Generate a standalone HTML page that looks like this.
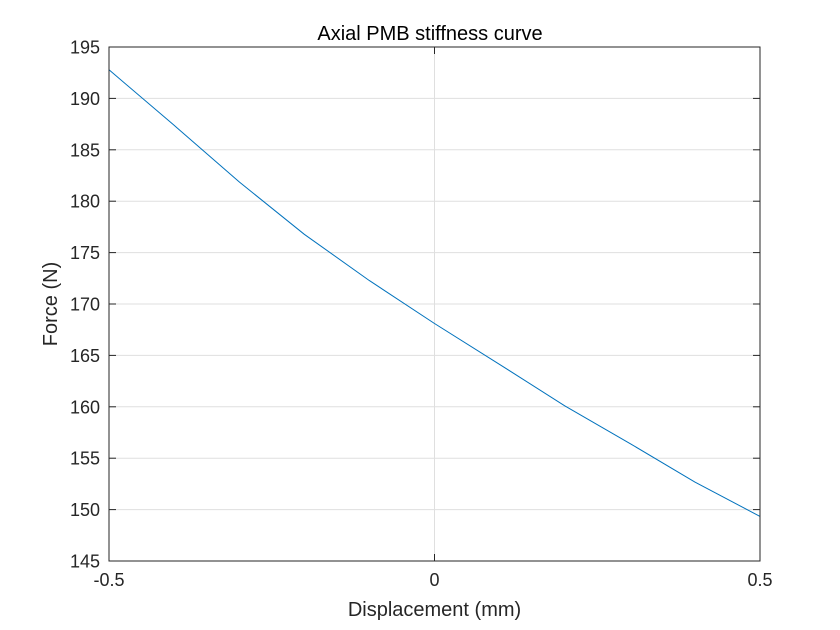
<!DOCTYPE html>
<html><head><meta charset="utf-8"><style>body{margin:0;background:#fff}svg{display:block}</style></head><body>
<svg width="840" height="630" xmlns="http://www.w3.org/2000/svg" font-family="Liberation Sans, sans-serif">
<rect width="840" height="630" fill="#fff"/>
<g stroke="#dfdfdf" stroke-width="1">
<line x1="109" x2="760" y1="98.4" y2="98.4"/><line x1="109" x2="760" y1="149.8" y2="149.8"/>
<line x1="109" x2="760" y1="201.2" y2="201.2"/><line x1="109" x2="760" y1="252.6" y2="252.6"/>
<line x1="109" x2="760" y1="304" y2="304"/><line x1="109" x2="760" y1="355.4" y2="355.4"/>
<line x1="109" x2="760" y1="406.8" y2="406.8"/><line x1="109" x2="760" y1="458.2" y2="458.2"/>
<line x1="109" x2="760" y1="509.6" y2="509.6"/>
<line x1="434.5" x2="434.5" y1="47" y2="561"/>
</g>
<polyline fill="none" stroke="#0072bd" stroke-width="1" points="109,69.8 174.1,125.3 239.2,181.9 304.3,234.3 369.4,280.6 434.5,323.5 499.6,364.4 564.7,405.8 629.8,443.4 694.9,482.1 760,516.4"/>
<rect x="109" y="47" width="651" height="514" fill="none" stroke="#262626" stroke-width="1"/>
<g stroke="#262626">
<line x1="109" x2="116" y1="98.4" y2="98.4"/><line x1="109" x2="116" y1="149.8" y2="149.8"/><line x1="109" x2="116" y1="201.2" y2="201.2"/><line x1="109" x2="116" y1="252.6" y2="252.6"/><line x1="109" x2="116" y1="304" y2="304"/><line x1="109" x2="116" y1="355.4" y2="355.4"/><line x1="109" x2="116" y1="406.8" y2="406.8"/><line x1="109" x2="116" y1="458.2" y2="458.2"/><line x1="109" x2="116" y1="509.6" y2="509.6"/>
<line x1="753" x2="760" y1="98.4" y2="98.4"/><line x1="753" x2="760" y1="149.8" y2="149.8"/><line x1="753" x2="760" y1="201.2" y2="201.2"/><line x1="753" x2="760" y1="252.6" y2="252.6"/><line x1="753" x2="760" y1="304" y2="304"/><line x1="753" x2="760" y1="355.4" y2="355.4"/><line x1="753" x2="760" y1="406.8" y2="406.8"/><line x1="753" x2="760" y1="458.2" y2="458.2"/><line x1="753" x2="760" y1="509.6" y2="509.6"/>
<line x1="434.5" x2="434.5" y1="561" y2="554"/><line x1="434.5" x2="434.5" y1="47" y2="54"/>
</g>
<g font-size="18" fill="#262626" text-anchor="end">
<text x="100" y="53.5">195</text><text x="100" y="104.9">190</text><text x="100" y="156.3">185</text><text x="100" y="207.7">180</text><text x="100" y="259.1">175</text><text x="100" y="310.5">170</text><text x="100" y="361.9">165</text><text x="100" y="413.3">160</text><text x="100" y="464.7">155</text><text x="100" y="516.1">150</text><text x="100" y="567.5">145</text>
</g>
<g font-size="18" fill="#262626" text-anchor="middle">
<text x="109" y="586">-0.5</text><text x="434.5" y="586">0</text><text x="760" y="586">0.5</text>
<text x="434.5" y="616" font-size="20">Displacement (mm)</text>
<text x="430" y="40" font-size="20" fill="#000">Axial PMB stiffness curve</text>
<text transform="translate(57,304) rotate(-90)" font-size="20">Force (N)</text>
</g>
</svg>
</body></html>
